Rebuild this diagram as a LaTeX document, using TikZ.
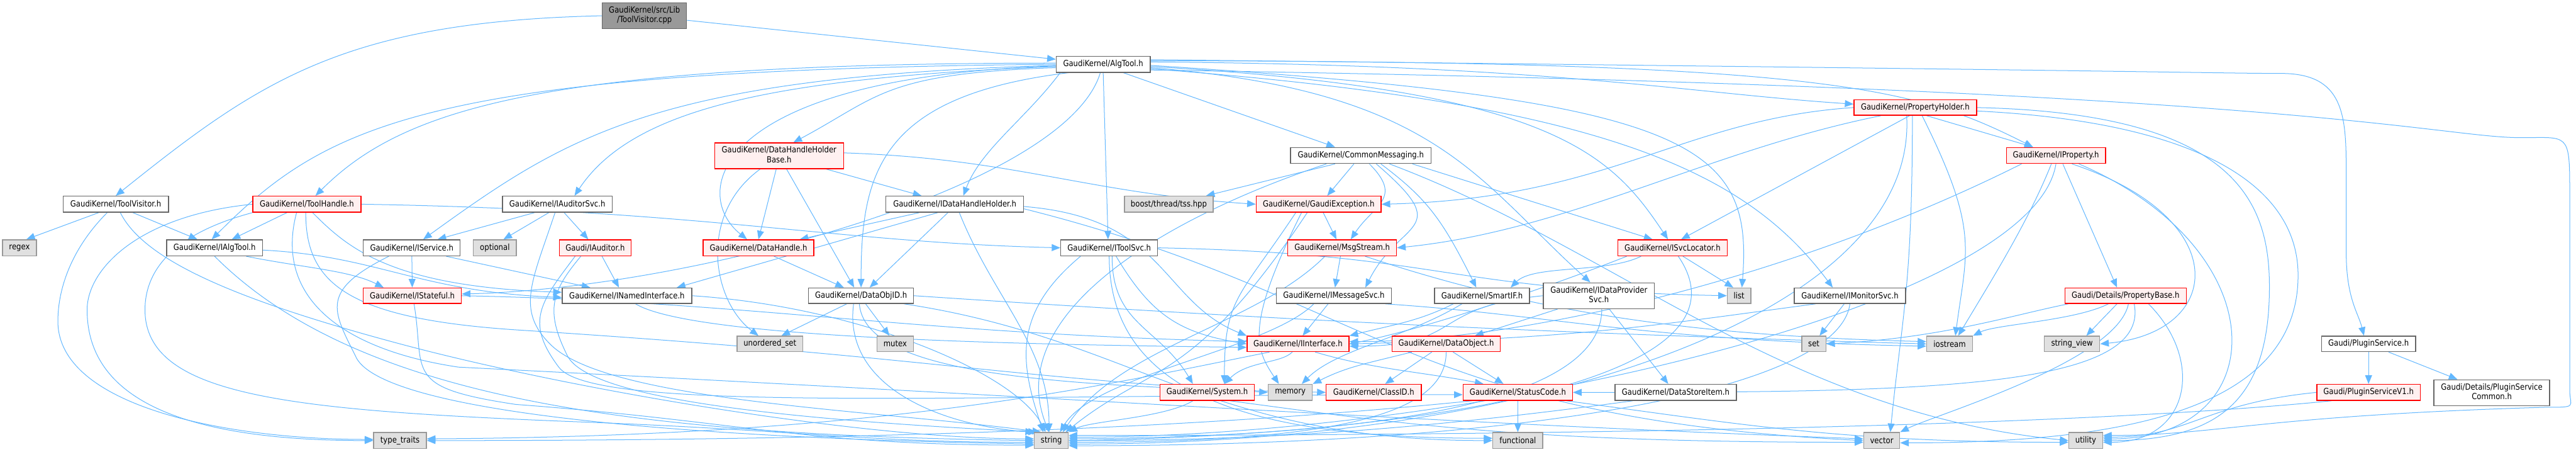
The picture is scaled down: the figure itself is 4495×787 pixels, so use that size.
\documentclass[tikz,border=0pt]{standalone}
\usepackage{fontspec}
\setmainfont{DejaVu Sans}
\usepackage{graphicx}
\usetikzlibrary{arrows.meta,backgrounds}
\definecolor{eb}{HTML}{63B8FF}
\definecolor{rb}{HTML}{FF0000}
\definecolor{rf}{HTML}{FFF0F0}
\definecolor{wb}{HTML}{666666}
\definecolor{gb}{HTML}{999999}
\definecolor{gf}{HTML}{E0E0E0}
\definecolor{rootf}{HTML}{999999}
\newcommand{\T}[1]{\scalebox{1}[1.15]{#1}}
\newcommand{\TT}[2]{\scalebox{1}[1.15]{\begin{tabular}{@{}c@{}}#1\\#2\end{tabular}}}
\begin{document}
\begin{tikzpicture}[x=1pt,y=1pt,
  every node/.style={font=\fontsize{12.8}{14.5}\selectfont, inner sep=0pt, text=black},
  box/.style={draw, line width=1.5pt, rectangle},
  nw/.style={box, draw=wb, fill=white},
  nr/.style={box, draw=rb, fill=rf},
  ng/.style={box, draw=gb, fill=gf},
  nroot/.style={box, draw=wb, fill=rootf},
  sz/.style 2 args={minimum width=#1pt, minimum height=#2pt},
  e/.style={draw=eb, line width=1.1pt, -{Triangle[length=15pt,width=12pt]}}]
\useasboundingbox (0,0) rectangle (4495,-787);
% nodes
\node[nroot, sz={147}{45}] (root) at (1124.5,-27.5) {\TT{GaudiKernel/src/Lib}{/ToolVisitor.cpp}};
\node[nw, sz={164}{28}] (algtool) at (1925,-112) {\T{GaudiKernel/AlgTool.h}};
\node[nr, sz={214}{27}] (pholder) at (3342,-187.5) {\T{GaudiKernel/PropertyHolder.h}};
\node[nr, sz={225}{45}] (dhhb) at (1359.5,-271.5) {\TT{GaudiKernel/DataHandleHolder}{Base.h}};
\node[nw, sz={245}{28}] (cmsg) at (2374.5,-271) {\T{GaudiKernel/CommonMessaging.h}};
\node[nr, sz={173}{28}] (iprop) at (3587.5,-271) {\T{GaudiKernel/IProperty.h}};
\node[nw, sz={184}{28}] (tvis) at (202,-356) {\T{GaudiKernel/ToolVisitor.h}};
\node[nr, sz={189}{28}] (thandle) at (535.5,-356) {\T{GaudiKernel/ToolHandle.h}};
\node[nw, sz={191}{28}] (audsvc) at (972.5,-356) {\T{GaudiKernel/IAuditorSvc.h}};
\node[nw, sz={240}{28}] (idhh) at (1666,-356) {\T{GaudiKernel/IDataHandleHolder.h}};
\node[ng, sz={155}{28}] (boost) at (2039.5,-356) {\T{boost/thread/tss.hpp}};
\node[nr, sz={218}{28}] (gexc) at (2301,-356) {\T{GaudiKernel/GaudiException.h}};
\node[ng, sz={59}{28}] (regex) at (34,-432) {\T{regex}};
\node[nw, sz={167}{28}] (ialgtool) at (374.5,-432) {\T{GaudiKernel/IAlgTool.h}};
\node[nw, sz={169}{28}] (isvc) at (718.5,-432) {\T{GaudiKernel/IService.h}};
\node[ng, sz={75}{28}] (optional) at (863.5,-432) {\T{optional}};
\node[nr, sz={125}{28}] (iaud) at (1038.5,-432) {\T{Gaudi/IAuditor.h}};
\node[nr, sz={193}{28}] (dhandle) at (1323.5,-432) {\T{GaudiKernel/DataHandle.h}};
\node[nw, sz={169}{28}] (itoolsvc) at (1935.5,-432) {\T{GaudiKernel/IToolSvc.h}};
\node[nr, sz={190}{28}] (msgs) at (2342,-432) {\T{GaudiKernel/MsgStream.h}};
\node[nr, sz={191}{28}] (isvcloc) at (2918.5,-432) {\T{GaudiKernel/ISvcLocator.h}};
\node[nr, sz={171}{27}] (istate) at (719.5,-515.5) {\T{GaudiKernel/IStateful.h}};
\node[nw, sz={226}{27}] (inamed) at (1094,-515.5) {\T{GaudiKernel/INamedInterface.h}};
\node[nw, sz={183}{27}] (dobjid) at (1502.5,-515.5) {\T{GaudiKernel/DataObjID.h}};
\node[nw, sz={201}{27}] (imsgsvc) at (2327.5,-515.5) {\T{GaudiKernel/IMessageSvc.h}};
\node[nw, sz={166}{27}] (smartif) at (2586,-515.5) {\T{GaudiKernel/SmartIF.h}};
\node[nw, sz={194}{45}] (idps) at (2790,-515.5) {\TT{GaudiKernel/IDataProvider}{Svc.h}};
\node[ng, sz={41}{27}] (list) at (3034.5,-515.5) {\T{list}};
\node[nw, sz={194}{27}] (imon) at (3228,-515.5) {\T{GaudiKernel/IMonitorSvc.h}};
\node[nr, sz={212}{27}] (pbase) at (3709,-515.5) {\T{Gaudi/Details/PropertyBase.h}};
\node[ng, sz={115}{27}] (uset) at (1343.5,-599.5) {\T{unordered\_set}};
\node[ng, sz={64}{27}] (mutex) at (1562,-599.5) {\T{mutex}};
\node[nr, sz={178}{27}] (iintf) at (2265,-599.5) {\T{GaudiKernel/IInterface.h}};
\node[nr, sz={189}{27}] (dobj) at (2523.5,-599.5) {\T{GaudiKernel/DataObject.h}};
\node[ng, sz={42}{27}] (set) at (3165,-599.5) {\T{set}};
\node[ng, sz={80}{27}] (iostream) at (3402,-599.5) {\T{iostream}};
\node[ng, sz={97}{27}] (sview) at (3615.5,-599.5) {\T{string\_view}};
\node[nw, sz={164}{27}] (plugsvc) at (4133,-599.5) {\T{Gaudi/PluginService.h}};
\node[nr, sz={165}{28}] (system) at (2106.5,-684) {\T{GaudiKernel/System.h}};
\node[ng, sz={77}{28}] (memory) at (2251.5,-684) {\T{memory}};
\node[nr, sz={166}{28}] (classid) at (2397,-684) {\T{GaudiKernel/ClassID.h}};
\node[nr, sz={191}{28}] (scode) at (2648.5,-684) {\T{GaudiKernel/StatusCode.h}};
\node[nw, sz={212}{28}] (dsitem) at (2924,-684) {\T{GaudiKernel/DataStoreItem.h}};
\node[nr, sz={180}{28}] (plugv1) at (4133,-684) {\T{Gaudi/PluginServiceV1.h}};
\node[nw, sz={202}{45}] (plugcom) at (4348,-684.5) {\TT{Gaudi/Details/PluginService}{Common.h}};
\node[ng, sz={92}{28}] (ttraits) at (698,-768) {\T{type\_traits}};
\node[ng, sz={59}{28}] (string) at (1834.5,-768) {\T{string}};
\node[ng, sz={87}{28}] (functional) at (2648.5,-768) {\T{functional}};
\node[ng, sz={63}{28}] (vector) at (3283.5,-768) {\T{vector}};
\node[ng, sz={59}{28}] (utility) at (3639.5,-768) {\T{utility}};
\begin{pgfonlayer}{background}
\fill[white] (0,0) rectangle (4495,-787);
% root
\draw[e] (root.west) .. controls +(-450,-10) and +(250,200) .. (tvis.north);
\draw[e] (root) -- (algtool);
% ToolVisitor.h
\draw[e] ([xshift=-30pt]tvis.south) -- ([xshift=12pt]regex.north);
\draw[e] ([xshift=30pt]tvis.south) -- ([xshift=-30pt]ialgtool.north);
\draw[e] ([xshift=-15pt]tvis.south) .. controls +(-60,-60) and +(0,60) .. (101,-560) .. controls +(0,-150) and +(-250,0) .. ([yshift=2pt]ttraits.west);
\draw[e] ([xshift=8pt]tvis.south) .. controls +(40,-80) and +(-300,80) .. (700,-600) .. controls +(300,-80) and +(-300,0) .. ([yshift=3pt]string.west);
% IAlgTool.h
\draw[e] ([yshift=-4pt]ialgtool.east) .. controls +(200,-10) and +(-250,10) .. ([yshift=-3pt]inamed.west);
\draw[e] ([xshift=55pt]ialgtool.south) .. controls +(100,-20) and +(-60,30) .. ([xshift=-50pt]istate.north);
\draw[e] (ialgtool.south) .. controls +(250,-250) and +(-700,10) .. (string.west);
% ToolHandle.h
\draw[e] ([xshift=-35pt]thandle.south) -- ([xshift=30pt]ialgtool.north);
\draw[e] (thandle.west) .. controls +(-200,-20) and +(0,70) .. (152,-540) .. controls +(0,-170) and +(-300,0) .. (ttraits.west);
\draw[e] (thandle.south west) .. controls +(-150,-40) and +(0,60) .. (253,-540) .. controls +(0,-150) and +(-500,20) .. (1000,-735) .. controls +(400,-15) and +(-300,0) .. ([yshift=-3pt]string.west);
\draw[e] ([xshift=10pt]thandle.south) .. controls +(60,-60) and +(-300,10) .. ([yshift=6pt]inamed.west);
\draw[e] (thandle.east) .. controls +(600,-10) and +(-400,10) .. (itoolsvc.west);
\draw[e] ([xshift=-2pt]thandle.south) .. controls +(0,-120) and +(-300,20) .. (900,-575) .. controls +(700,-45) and +(-500,30) .. (memory.west);
\draw[e] ([xshift=-18pt]thandle.south) .. controls +(-40,-150) and +(-200,30) .. (800,-640) .. controls +(1200,-60) and +(-800,30) .. ([yshift=3pt]vector.west);
% IAuditorSvc.h
\draw[e] ([xshift=-40pt]audsvc.south) -- ([xshift=45pt]isvc.north);
\draw[e] ([xshift=-15pt]audsvc.south) -- ([xshift=15pt]optional.north);
\draw[e] ([xshift=12pt]audsvc.south) -- ([xshift=-12pt]iaud.north);
\draw[e] ([xshift=-4pt]audsvc.south) .. controls +(-40,-120) and +(-60,60) .. (960,-600) .. controls +(100,-100) and +(-300,40) .. ([xshift=-18pt]string.north);
% IService.h
\draw[e] (isvc) -- (istate);
\draw[e] ([xshift=60pt]isvc.south) -- ([xshift=-64pt]inamed.north);
\draw[e] ([xshift=-40pt]isvc.south) .. controls +(-120,-60) and +(-40,80) .. (620,-620) .. controls +(40,-100) and +(-600,10) .. ([yshift=-6pt]string.west);
% IStateful.h
\draw[e] (istate.east) .. controls +(500,-10) and +(-600,15) .. ([yshift=4pt]iintf.west);
\draw[e] ([xshift=3pt]istate.south) .. controls +(20,-120) and +(-200,30) .. (900,-705) .. controls +(400,-30) and +(-400,0) .. ([yshift=-8pt]string.west);
% IAuditor.h
\draw[e] ([xshift=12pt]iaud.south) -- ([xshift=-14pt]inamed.north);
\draw[e] ([xshift=-25pt]iaud.south) .. controls +(-50,-60) and +(-40,80) .. (990,-620) .. controls +(40,-80) and +(-400,20) .. ([xshift=-25pt]string.north);
\draw[e] ([xshift=-35pt]iaud.south) .. controls +(-60,-80) and +(-60,80) .. (975,-640) .. controls +(60,-80) and +(-900,0) .. ([yshift=-4pt]scode.west);
% INamedInterface.h
\draw[e] ([xshift=15pt]inamed.south) .. controls +(100,-60) and +(-400,5) .. ([yshift=-6pt]iintf.west);
\draw[e] (inamed.east) .. controls +(300,-20) and +(-50,100) .. ([xshift=-10pt]string.north);
% DataHandleHolderBase.h
\draw[e] ([xshift=-33pt]dhhb.south) .. controls +(-110,-80) and +(-80,60) .. ([xshift=-20pt]uset.north);
\draw[e] ([xshift=-5pt]dhhb.south) -- (dhandle.north);
\draw[e] ([xshift=13pt]dhhb.south) -- ([xshift=-12pt]dobjid.north);
\draw[e] ([xshift=82pt]dhhb.south) -- ([xshift=-58pt]idhh.north);
\draw[e] ([yshift=5pt]dhhb.east) .. controls +(300,-10) and +(-300,20) .. (gexc.west);
% DataHandle.h
\draw[e] ([xshift=27pt]dhandle.south) -- ([xshift=-30pt]dobjid.north);
% IDataHandleHolder.h
\draw[e] ([xshift=-62pt]idhh.south) -- ([xshift=72pt]dhandle.north);
\draw[e] ([xshift=-30pt]idhh.south) -- ([xshift=87pt]inamed.north);
\draw[e] ([xshift=-12pt]idhh.south) -- ([xshift=15pt]dobjid.north);
\draw[e] ([xshift=8pt]idhh.south) .. controls +(60,-150) and +(0,150) .. ([xshift=-4pt]string.north);
\draw[e] ([yshift=-4pt]idhh.east) .. controls +(250,-20) and +(-150,60) .. (iintf.north west);
\draw[e] ([yshift=-8pt]idhh.east) .. controls +(600,-150) and +(-800,40) .. (vector.west);
% DataObjID.h
\draw[e] ([xshift=-25pt]dobjid.south) -- ([xshift=20pt]uset.north);
\draw[e] ([xshift=8pt]dobjid.south) -- ([xshift=-10pt]mutex.north);
\draw[e] ([xshift=-13pt]dobjid.south) .. controls +(-20,-150) and +(-150,10) .. (string.north west);
\draw[e] ([xshift=-3pt]dobjid.south) .. controls +(10,-120) and +(-500,10) .. (classid.west);
\draw[e] (dobjid.east) .. controls +(600,-40) and +(-700,20) .. (iostream.west);
\draw[e] ([xshift=75pt]dobjid.south) .. controls +(400,-60) and +(-500,0) .. (functional.west);
% IToolSvc.h
\draw[e] ([xshift=-50pt]itoolsvc.south) .. controls +(-120,-100) and +(-40,120) .. ([xshift=-14pt]string.north);
\draw[e] ([xshift=5pt]itoolsvc.south) .. controls +(0,-120) and +(-60,100) .. ([xshift=-25pt]system.north);
\draw[e] ([xshift=12pt]itoolsvc.south) .. controls +(60,-100) and +(-120,20) .. (iintf.west);
\draw[e] (itoolsvc.south) .. controls +(0,-250) and +(-400,0) .. ([yshift=4pt]functional.west);
\draw[e] (itoolsvc.east) .. controls +(500,-10) and +(-500,10) .. (list.west);
% MsgStream.h
\draw[e] ([xshift=-3pt]msgs.south) -- ([xshift=2pt]imsgsvc.north);
\draw[e] ([xshift=-30pt]msgs.south) .. controls +(-120,-120) and +(100,150) .. ([xshift=20pt]string.north);
\draw[e] ([xshift=40pt]msgs.south) .. controls +(300,-100) and +(-400,10) .. ([yshift=4pt]iostream.west);
% GaudiException.h
\draw[e] ([xshift=8pt]gexc.south) -- ([xshift=-10pt]msgs.north);
\draw[e] ([xshift=-40pt]gexc.south) .. controls +(-100,-150) and +(0,150) .. ([xshift=30pt]system.north);
\draw[e] ([xshift=-20pt]gexc.south) .. controls +(-200,-300) and +(150,120) .. ([xshift=25pt]string.north);
\draw[e] ([xshift=-30pt]gexc.south) .. controls +(-100,-200) and +(-40,60) .. ([xshift=-20pt]memory.north);
% CommonMessaging.h
\draw[e] ([xshift=-12pt]cmsg.south) -- ([xshift=15pt]gexc.north);
\draw[e] ([xshift=15pt]cmsg.south) .. controls +(60,-60) and +(40,60) .. ([xshift=15pt]msgs.north);
\draw[e] ([xshift=27pt]cmsg.south) .. controls +(140,-120) and +(60,120) .. ([xshift=55pt]imsgsvc.north);
\draw[e] ([xshift=35pt]cmsg.south) .. controls +(80,-60) and +(-60,120) .. ([xshift=-10pt]smartif.north);
\draw[e] ([xshift=90pt]cmsg.south) -- ([xshift=-35pt]isvcloc.north);
\draw[e] ([xshift=-45pt]cmsg.south) -- ([xshift=65pt]boost.north);
\draw[e] ([xshift=-60pt]cmsg.south) .. controls +(-300,-100) and +(-80,200) .. ([xshift=-4pt]string.north);
\draw[e] ([xshift=50pt]cmsg.south) .. controls +(400,-150) and +(-500,50) .. (utility.west);
% ISvcLocator.h
\draw[e] ([xshift=18pt]isvcloc.south) -- ([xshift=-10pt]list.north);
\draw[e] ([xshift=10pt]isvcloc.south) .. controls +(150,-220) and +(600,10) .. (string.east);
\draw[e] ([xshift=-80pt]isvcloc.south) .. controls +(-100,-40) and +(150,30) .. (iintf.east);
\draw[e] ([xshift=-55pt]isvcloc.south) .. controls +(-60,-30) and +(40,40) .. ([xshift=50pt]smartif.north);
% IMessageSvc.h
\draw[e] ([xshift=-10pt]imsgsvc.south) -- ([xshift=8pt]iintf.north);
\draw[e] ([xshift=-35pt]imsgsvc.south) .. controls +(-80,-80) and +(60,100) .. ([xshift=15pt]string.north);
\draw[e] ([xshift=90pt]imsgsvc.south) .. controls +(300,-20) and +(-500,10) .. ([yshift=-4pt]iostream.west);
% SmartIF.h
\draw[e] ([xshift=-50pt]smartif.south) .. controls +(-60,-30) and +(80,20) .. (iintf.north east);
\draw[e] ([xshift=-35pt]smartif.south) .. controls +(-100,-60) and +(60,60) .. ([xshift=20pt]memory.north);
% IDataProviderSvc.h
\draw[e] ([xshift=-72pt]idps.south) -- ([xshift=50pt]dobj.north);
\draw[e] (idps.west) .. controls +(-200,-20) and +(200,0) .. ([yshift=-4pt]iintf.east);
\draw[e] ([xshift=18pt]idps.south) -- ([xshift=-13pt]dsitem.north);
\draw[e] ([xshift=5pt]idps.south) .. controls +(0,-150) and +(600,5) .. ([yshift=3pt]string.east);
% DataObject.h
\draw[e] ([xshift=-25pt]dobj.south) -- ([xshift=20pt]classid.north);
\draw[e] ([xshift=12pt]dobj.south) -- ([xshift=-25pt]scode.north);
\draw[e] ([xshift=-60pt]dobj.south) .. controls +(-80,-20) and +(60,30) .. (memory.north east);
\draw[e] (dobj.south) .. controls +(0,-100) and +(500,0) .. ([yshift=-3pt]string.east);
% IInterface.h
\draw[e] ([xshift=-10pt]iintf.south) .. controls +(-20,-20) and +(40,40) .. ([xshift=30pt]system.north);
\draw[e] ([xshift=30pt]iintf.south) .. controls +(100,-30) and +(-100,20) .. ([xshift=-60pt]scode.north);
\draw[e] ([xshift=-50pt]iintf.south) .. controls +(-300,-60) and +(800,5) .. ([yshift=3pt]ttraits.east);
% System.h
\draw[e] ([xshift=-25pt]system.south) .. controls +(-50,-30) and +(40,20) .. (string.north east);
\draw[e] ([xshift=40pt]system.south) .. controls +(300,-40) and +(-600,0) .. ([yshift=-3pt]vector.west);
% StatusCode.h
\draw[e] (scode) -- (functional);
\draw[e] ([xshift=-80pt]scode.south) .. controls +(-400,-40) and +(900,0) .. (ttraits.east);
\draw[e] ([xshift=85pt]scode.south) .. controls +(300,-40) and +(-400,0) .. ([yshift=-3pt]utility.west);
% DataStoreItem.h
\draw[e] ([xshift=-75pt]dsitem.south) .. controls +(-300,-40) and +(400,0) .. (string.east);
% PropertyHolder.h
\draw[e] ([xshift=20pt]pholder.south) -- ([xshift=-40pt]iprop.north);
\draw[e] ([xshift=-10pt]pholder.south) -- ([xshift=15pt]isvcloc.north);
\draw[e] (pholder.west) .. controls +(-300,-20) and +(400,10) .. (gexc.east);
\draw[e] ([xshift=-60pt]pholder.south) .. controls +(-300,-60) and +(300,30) .. (msgs.east);
\draw[e] ([xshift=12pt]pholder.south) .. controls +(100,-200) and +(20,150) .. ([xshift=10pt]iostream.north);
\draw[e] ([xshift=-5pt]pholder.south) .. controls +(0,-300) and +(20,200) .. ([xshift=15pt]vector.north);
\draw[e] ([xshift=-15pt]pholder.south) .. controls +(20,-350) and +(800,0) .. ([yshift=-6pt]string.east);
\draw[e] (pholder.east) .. controls +(450,-10) and +(0,150) .. (3960,-500) .. controls +(0,-200) and +(200,0) .. (utility.east);
\draw[e] ([yshift=-6pt]pholder.east) .. controls +(400,-20) and +(0,150) .. (4010,-480) .. controls +(0,-230) and +(400,0) .. ([yshift=-4pt]vector.east);
% IProperty.h
\draw[e] ([xshift=12pt]iprop.south) -- ([xshift=-15pt]pbase.north);
\draw[e] ([xshift=-8pt]iprop.south) .. controls +(-40,-100) and +(60,100) .. ([xshift=15pt]iostream.north);
\draw[e] ([xshift=28pt]iprop.south) .. controls +(285,-95) and +(216,20) .. (sview.east);
\draw[e] ([xshift=40pt]iprop.south) .. controls +(350,-150) and +(300,0) .. ([yshift=3pt]utility.east);
\draw[e] (iprop.south) .. controls +(-40,-250) and +(700,0) .. ([yshift=6pt]string.east);
\draw[e] ([xshift=-60pt]iprop.south) .. controls +(-400,-200) and +(300,0) .. ([yshift=4pt]iintf.east);
% PropertyBase.h
\draw[e] ([xshift=-30pt]pbase.south) .. controls +(-60,-30) and +(40,20) .. (iostream.north east);
\draw[e] ([xshift=-15pt]pbase.south) -- ([xshift=25pt]sview.north);
\draw[e] ([xshift=-100pt]pbase.south) .. controls +(-100,-20) and +(200,10) .. (set.east);
\draw[e] ([xshift=5pt]pbase.south) .. controls +(-20,-100) and +(60,30) .. (vector.north east);
\draw[e] ([xshift=15pt]pbase.south) .. controls +(30,-150) and +(600,0) .. (scode.east);
\draw[e] ([xshift=40pt]pbase.south) .. controls +(100,-100) and +(150,0) .. ([yshift=-3pt]utility.east);
% IMonitorSvc.h
\draw[e] ([xshift=-10pt]imon.south) -- ([xshift=10pt]set.north);
\draw[e] ([xshift=-60pt]imon.south) .. controls +(-300,-40) and +(400,10) .. (iintf.east);
\draw[e] (imon.south) .. controls +(-20,-150) and +(800,0) .. ([yshift=-9pt]string.east);
% PluginService
\draw[e] (plugsvc) -- (plugv1);
\draw[e] ([xshift=35pt]plugsvc.south) -- ([xshift=-60pt]plugcom.north);
\draw[e] (plugv1.west) .. controls +(-200,-20) and +(150,0) .. ([yshift=6pt]utility.east);
\draw[e] ([xshift=-65pt]plugv1.south) .. controls +(-400,-40) and +(1000,0) .. ([yshift=9pt]string.east);
% AlgTool.h
\draw[e] ([yshift=2pt]algtool.west) .. controls +(-900,0) and +(150,150) .. ([xshift=15pt]thandle.north);
\draw[e] (algtool.west) .. controls +(-1100,-10) and +(200,200) .. ([xshift=-5pt]ialgtool.north);
\draw[e] ([yshift=-2pt]algtool.west) .. controls +(-700,-20) and +(250,180) .. ([xshift=20pt]isvc.north);
\draw[e] ([yshift=-4pt]algtool.west) .. controls +(-500,-20) and +(100,150) .. ([xshift=30pt]audsvc.north);
\draw[e] ([yshift=-6pt]algtool.west) .. controls +(-300,-10) and +(150,80) .. ([xshift=25pt]dhhb.north);
\draw[e] ([yshift=-3pt]algtool.west) .. controls +(-600,-20) and +(-100,80) .. ([xshift=-20pt]dhandle.north);
\draw[e] ([xshift=-60pt]algtool.south) .. controls +(-330,-40) and +(0,200) .. (dobjid.north);
\draw[e] ([xshift=-75pt]algtool.south) .. controls +(-60,-80) and +(30,80) .. ([xshift=15pt]idhh.north);
\draw[e] (algtool.south) -- ([xshift=-2pt]itoolsvc.north);
\draw[e] ([xshift=-5pt]algtool.south) .. controls +(-60,-200) and +(400,10) .. ([yshift=3pt]istate.east);
\draw[e] ([xshift=35pt]algtool.south) -- ([xshift=-45pt]cmsg.north);
\draw[e] ([yshift=-4pt]algtool.east) .. controls +(700,-40) and +(-100,150) .. ([xshift=-8pt]isvcloc.north);
\draw[e] ([yshift=-6pt]algtool.east) .. controls +(500,-40) and +(-200,180) .. ([xshift=-15pt]idps.north);
\draw[e] ([yshift=-2pt]algtool.east) .. controls +(950,-60) and +(20,250) .. ([xshift=5pt]list.north);
\draw[e] ([yshift=-8pt]algtool.east) .. controls +(800,-60) and +(-150,200) .. ([xshift=-30pt]imon.north);
\draw[e] ([yshift=4pt]algtool.east) .. controls +(700,-5) and +(-300,20) .. ([yshift=6pt]pholder.west);
\draw[e] ([yshift=6pt]algtool.east) .. controls +(1200,0) and +(-200,100) .. ([xshift=-40pt]iprop.north);
\draw[e] ([yshift=8pt]algtool.east) .. controls +(1800,-20) and +(-100,0) .. (3980,-128) .. controls +(110,0) and +(0,100) .. (4094,-300) -- (4094,-440) .. controls +(0,-80) and +(-10,40) .. ([xshift=-8pt]plugsvc.north);
\draw[e] ([yshift=-10pt]algtool.east) .. controls +(2000,-30) and +(-150,0) .. (4400,-240) .. controls +(80,0) and +(0,100) .. (4484,-330) -- (4484,-680) .. controls +(0,-30) and +(60,0) .. (4440,-710) .. controls +(-500,-15) and +(200,0) .. ([yshift=9pt]utility.east);
\end{pgfonlayer}
\end{tikzpicture}
\end{document}
